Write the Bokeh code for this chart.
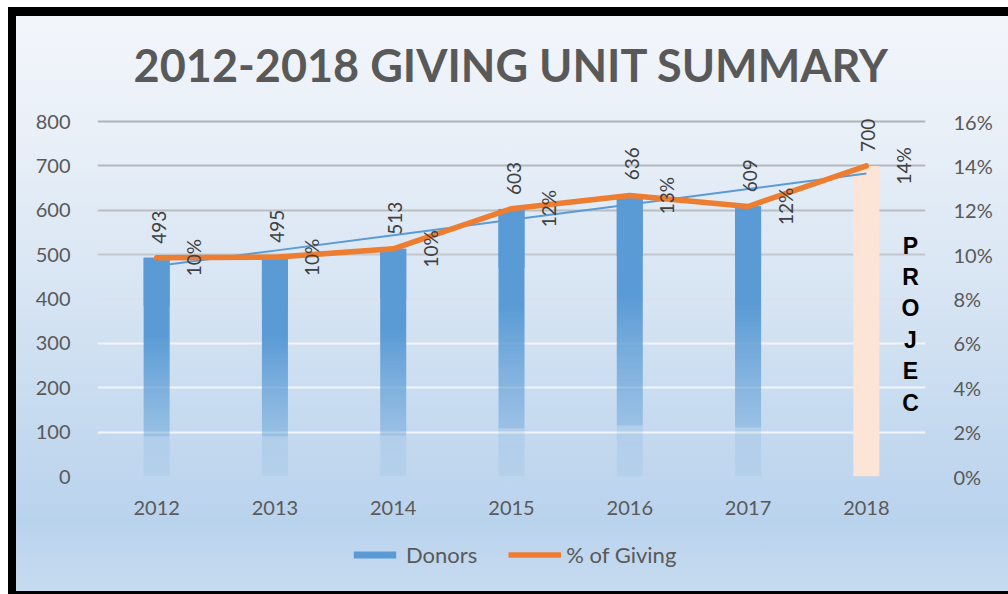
import numpy as np
from bokeh.plotting import figure
from bokeh.layouts import column
from bokeh.models import (FactorRange, Range1d, LinearAxis, NumeralTickFormatter,
                          FixedTicker, Grid, Legend, LegendItem, Label, ColumnDataSource)
from bokeh.embed import file_html
from bokeh.resources import INLINE
from bokeh.core.properties import value

# ---------------- data ----------------
years = ["2012", "2013", "2014", "2015", "2016", "2017", "2018"]
donors = [493, 495, 513, 603, 636, 609, 700]
pct_giving = [0.0986, 0.0988, 0.1026, 0.1207, 0.1266, 0.1217, 0.140]
pct_labels = ["10%", "10%", "10%", "12%", "13%", "12%", "14%"]
projected = [False, False, False, False, False, False, True]
left_ticks = [0, 100, 200, 300, 400, 500, 600, 700, 800]
right_ticks = [0, 0.02, 0.04, 0.06, 0.08, 0.10, 0.12, 0.14, 0.16]
series_names = ["Donors", "% of Giving"]
title_text = "2012-2018 GIVING UNIT SUMMARY"
projected_note = "P\nR\nO\nJ\nE\nC"

# ---------------- styles ----------------
BLUE = "#5b9bd5"
ORANGE = "#ed7d31"
PEACH = "#fce4d6"
AXIS_TXT = "#595959"
LABEL_TXT = "#404040"
FONT = "Lato"
BAR_W = 0.22
grid_colors = ["#cdd6df", "#f3f6f9", "#f3f6f9", "#f1f4f8", "#d9e2ec",
               "#c4c8cc", "#b9bdc1", "#b4b8bc", "#b0b4b8"]
HEAD = 360 / 355          # head-room above the top gridline (frame 360 px, grid 355 px)
MAIN_H = 530
LEG_H = 594 - MAIN_H


def page_bg(off):
    return (f"linear-gradient(#000,#000) 8px {7 - off}px / 1000px 9px no-repeat, "
            f"linear-gradient(#000,#000) 8px {7 - off}px / 8px 587px no-repeat, "
            f"linear-gradient(#000,#000) 8px {591 - off}px / 1000px 3px no-repeat, "
            "linear-gradient(to bottom, #f3f6fb 0%, #e6eef7 25%, #d6e4f3 50%, "
            "#c2d8ef 75%, #bad3ed 88%, #c6dbf0 100%) "
            f"16px {16 - off}px / 992px 575px no-repeat, #ffffff")


p = figure(width=1008, height=MAIN_H, x_range=FactorRange(*years),
           y_range=Range1d(0, left_ticks[-1] * HEAD),
           output_backend="svg", toolbar_location=None,
           min_border_left=97, min_border_right=83, min_border_top=116,
           min_border_bottom=MAIN_H - 476)
p.styles = {"background": page_bg(0)}
p.border_fill_alpha = 0
p.background_fill_alpha = 0
p.outline_line_color = None
p.extra_y_ranges = {"pct": Range1d(0, right_ticks[-1] * HEAD)}

p.title.text = title_text
p.title.align = "center"
p.title.text_font = FONT
p.title.text_font_style = "bold"
p.title.text_font_size = "45px"
p.title.text_color = AXIS_TXT
p.title.standoff = 49

for ax in [p.xaxis[0], p.yaxis[0]]:
    ax.axis_line_color = None
    ax.major_tick_line_color = None
    ax.minor_tick_line_color = None
    ax.major_label_text_font = FONT
    ax.major_label_text_font_size = "20px"
    ax.major_label_text_color = AXIS_TXT
p.yaxis[0].ticker = FixedTicker(ticks=left_ticks)
p.yaxis[0].major_label_standoff = 21
p.xaxis[0].major_label_standoff = 18

right = LinearAxis(y_range_name="pct", ticker=FixedTicker(ticks=right_ticks),
                   formatter=NumeralTickFormatter(format="0%"))
right.axis_line_color = None
right.major_tick_line_color = None
right.minor_tick_line_color = None
right.major_label_text_font = FONT
right.major_label_text_font_size = "20px"
right.major_label_text_color = AXIS_TXT
right.major_label_standoff = 22
p.add_layout(right, "right")

p.xgrid.visible = False
p.ygrid.visible = False
for t, c in zip(left_ticks, grid_colors):
    p.add_layout(Grid(dimension=1, ticker=FixedTicker(ticks=[t]), grid_line_color=c,
                      grid_line_width=2))

# gradient (fading) lower part of the actual bars
N = 160
frac = (np.arange(N) + 0.5) / N
alpha = np.where(frac < 0.18, 0.10 + frac * 0.4, 0.40 + (frac - 0.18) / 0.45 * 0.60)
alpha = np.clip(alpha, 0, 1)
rgba = np.zeros((N, 2, 4), dtype=np.uint8)
rgba[:, :, 0] = 0x5b
rgba[:, :, 1] = 0x9b
rgba[:, :, 2] = 0xd5
rgba[:, :, 3] = np.round(alpha * 255).astype(np.uint8)[:, None]
img = rgba.view(dtype=np.uint32).reshape((N, 2))

idx = [i for i, pr in enumerate(projected) if not pr]
p.image_rgba(image=[img] * len(idx),
             x=[i + 0.5 - BAR_W / 2 for i in idx], y=[0] * len(idx),
             dw=[BAR_W] * len(idx), dh=[donors[i] for i in idx])

# solid part of the bars (projected bar in full)
solid_from = 0.78
bar_src = ColumnDataSource(dict(
    x=years, top=donors,
    bottom=[0 if pr else v * solid_from for v, pr in zip(donors, projected)],
    color=[PEACH if pr else BLUE for pr in projected]))
p.vbar(x="x", top="top", bottom="bottom", width=BAR_W, fill_color="color",
       line_color=None, source=bar_src)

# linear trend of donors
xi = np.arange(len(donors))
slope, intercept = np.polyfit(xi, donors, 1)
trend = slope * xi + intercept
p.line(x=years, y=trend.tolist(), line_color=BLUE, line_width=2)

# % of giving
p.line(x=years, y=pct_giving, y_range_name="pct", line_color=ORANGE,
       line_width=5.5, line_join="round", line_cap="round")

# data labels
p.text(x=years, y=donors, text=[str(v) for v in donors], angle=np.pi / 2,
       text_align="left", text_baseline="middle", x_offset=2, y_offset=-14,
       text_font=value(FONT), text_font_size="19px", text_color=LABEL_TXT)
p.text(x=years, y=pct_giving, y_range_name="pct", text=pct_labels, angle=np.pi / 2,
       text_align="center", text_baseline="middle", x_offset=37,
       text_font=value(FONT), text_font_size="19px", text_color=LABEL_TXT)

note = Label(x=813, y=244, x_units="screen", y_units="screen", text=projected_note,
             text_align="center", text_baseline="top", text_font="Liberation Sans",
             text_font_style="bold", text_font_size="23px", text_color="#000000",
             text_line_height=1.21)
p.add_layout(note)

# ---------------- legend strip ----------------
pl = figure(width=1008, height=LEG_H, x_range=Range1d(0, 1), y_range=Range1d(0, 1),
            output_backend="svg", toolbar_location=None,
            x_axis_location=None, y_axis_location=None,
            min_border_left=0, min_border_right=0, min_border_top=0, min_border_bottom=0)
pl.styles = {"background": page_bg(MAIN_H)}
pl.border_fill_alpha = 0
pl.background_fill_alpha = 0
pl.outline_line_color = None
pl.grid.visible = False
# legend keys (zero-size, they only provide the key styles)
key_bar = pl.vbar(x=[0], top=[0], bottom=[0], width=0, fill_color=BLUE, line_color=None)
key_line = pl.line(x=[0], y=[0], line_color=ORANGE, line_width=5.5)
legend = Legend(items=[LegendItem(label=series_names[0], renderers=[key_bar], index=0),
                       LegendItem(label=series_names[1], renderers=[key_line], index=0)],
                orientation="horizontal", location=(251, 26),
                glyph_width=53, glyph_height=9, label_standoff=5, spacing=31,
                padding=0, margin=0, label_text_font=FONT, label_text_font_size="22px",
                label_text_color=AXIS_TXT, background_fill_alpha=0, border_line_alpha=0)
pl.add_layout(legend)

open("out.html", "w").write(file_html(column(p, pl), INLINE))
